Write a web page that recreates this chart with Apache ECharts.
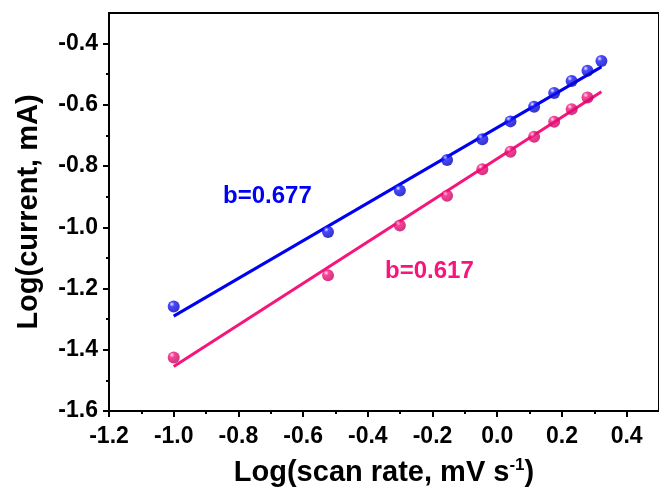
<!DOCTYPE html>
<html>
<head>
<meta charset="utf-8">
<script src="https://cdn.jsdelivr.net/npm/echarts@6/dist/echarts.min.js"></script>
<style>html,body{margin:0;padding:0;background:#fff}#c{width:659px;height:492px}</style>
</head>
<body>
<div id="c"></div>
<script>
// ---- data ----
var scanLog = [-1.0, -0.523, -0.301, -0.155, -0.046, 0.041, 0.114, 0.176, 0.230, 0.279, 0.322];
var blueY = [-1.259, -1.015, -0.880, -0.780, -0.712, -0.654, -0.606, -0.561, -0.522, -0.489, -0.457];
var pinkY = [-1.425, -1.157, -0.994, -0.897, -0.810, -0.753, -0.704, -0.655, -0.614, -0.576];
var blueFitX = [-1.0, 0.322];
var blueFitY = [-1.290, -0.476];
var pinkFitX = [-1.0, 0.322];
var pinkFitY = [-1.455, -0.557];
var xMajorTicks = [-1.2, -1.0, -0.8, -0.6, -0.4, -0.2, 0.0, 0.2, 0.4];
var xMinorTicks = [-1.1, -0.9, -0.7, -0.5, -0.3, -0.1, 0.1, 0.3];
var yMajorTicks = [-1.6, -1.4, -1.2, -1.0, -0.8, -0.6, -0.4];
var yMinorTicks = [-1.5, -1.3, -1.1, -0.9, -0.7, -0.5];
var blueLabel = 'b=0.677';
var pinkLabel = 'b=0.617';

function pairs(xs, ys) { return ys.map(function (v, i) { return [xs[i], v]; }); }
function ball(light, mid, dark) {
  return new echarts.graphic.RadialGradient(0.35, 0.3, 0.75, [
    { offset: 0, color: light }, { offset: 0.28, color: mid }, { offset: 1, color: dark }
  ]);
}
var FONT = '"Liberation Sans", Arial, sans-serif';
var BLUE = '#0000f2';
var PINK = '#f5157c';

var chart = echarts.init(document.getElementById('c'), null, { renderer: 'canvas' });
var xMin = -1.2, xMax = 0.5, yMin = -1.6, yMax = -0.3;
chart.setOption({
  animation: false,
  backgroundColor: '#fff',
  grid: { left: 109, top: 13, right: -5, bottom: 80, show: true, borderColor: '#000', borderWidth: 2, backgroundColor: 'transparent' },
  xAxis: [{
    type: 'value', min: xMin, max: xMax, position: 'bottom',
    name: 'Log(scan rate, mV s{sup|-1})', nameLocation: 'middle', nameGap: 46,
    nameTextStyle: { fontFamily: FONT, fontWeight: 'bold', fontSize: 29, color: '#000',
      rich: { sup: { fontFamily: FONT, fontWeight: 'bold', fontSize: 17, color: '#000', padding: [0, 0, 14, 0] } } },
    axisLine: { show: true, onZero: false, lineStyle: { color: '#000', width: 2 } },
    axisTick: { show: true, length: 6, lineStyle: { color: '#000', width: 2 }, customValues: xMajorTicks },
    axisLabel: { customValues: xMajorTicks, fontFamily: FONT, fontWeight: 'bold', fontSize: 23, color: '#000', margin: 14,
      formatter: function (v) { return v.toFixed(1); } },
    splitLine: { show: false }
  }, {
    type: 'value', min: xMin, max: xMax, position: 'bottom',
    axisLine: { show: false, onZero: false },
    axisTick: { show: true, length: 3, lineStyle: { color: '#000', width: 2 }, customValues: xMinorTicks },
    axisLabel: { show: false }, splitLine: { show: false }
  }],
  yAxis: [{
    type: 'value', min: yMin, max: yMax, position: 'left',
    name: 'Log(current, mA)', nameLocation: 'middle', nameGap: 66,
    nameTextStyle: { fontFamily: FONT, fontWeight: 'bold', fontSize: 29, color: '#000' },
    axisLine: { show: true, onZero: false, lineStyle: { color: '#000', width: 2 } },
    axisTick: { show: true, length: 6, lineStyle: { color: '#000', width: 2 }, customValues: yMajorTicks },
    axisLabel: { customValues: yMajorTicks, fontFamily: FONT, fontWeight: 'bold', fontSize: 23, color: '#000', margin: 11,
      formatter: function (v) { return v.toFixed(1); } },
    splitLine: { show: false }
  }, {
    type: 'value', min: yMin, max: yMax, position: 'left',
    axisLine: { show: false, onZero: false },
    axisTick: { show: true, length: 3, lineStyle: { color: '#000', width: 2 }, customValues: yMinorTicks },
    axisLabel: { show: false }, splitLine: { show: false }
  }],
  series: [
    { type: 'line', data: pairs(blueFitX, blueFitY), showSymbol: false, lineStyle: { color: BLUE, width: 3 }, z: 2 },
    { type: 'line', data: pairs(pinkFitX, pinkFitY), showSymbol: false, lineStyle: { color: PINK, width: 3 }, z: 2 },
    { type: 'scatter', data: pairs(scanLog, blueY), symbol: 'circle', symbolSize: 12,
      itemStyle: { color: ball('#e8e8ff', '#1a1aff', '#0000b0') }, z: 3 },
    { type: 'scatter', data: pairs(scanLog, pinkY), symbol: 'circle', symbolSize: 12,
      itemStyle: { color: ball('#ffe0f0', '#f5157c', '#c00060') }, z: 3 }
  ],
  graphic: [
    { type: 'text', left: 223, top: 184, style: { text: blueLabel, fill: BLUE, font: 'bold 24px ' + FONT } },
    { type: 'text', left: 385, top: 259, style: { text: pinkLabel, fill: PINK, font: 'bold 24px ' + FONT } }
  ]
});
</script>
</body>
</html>
